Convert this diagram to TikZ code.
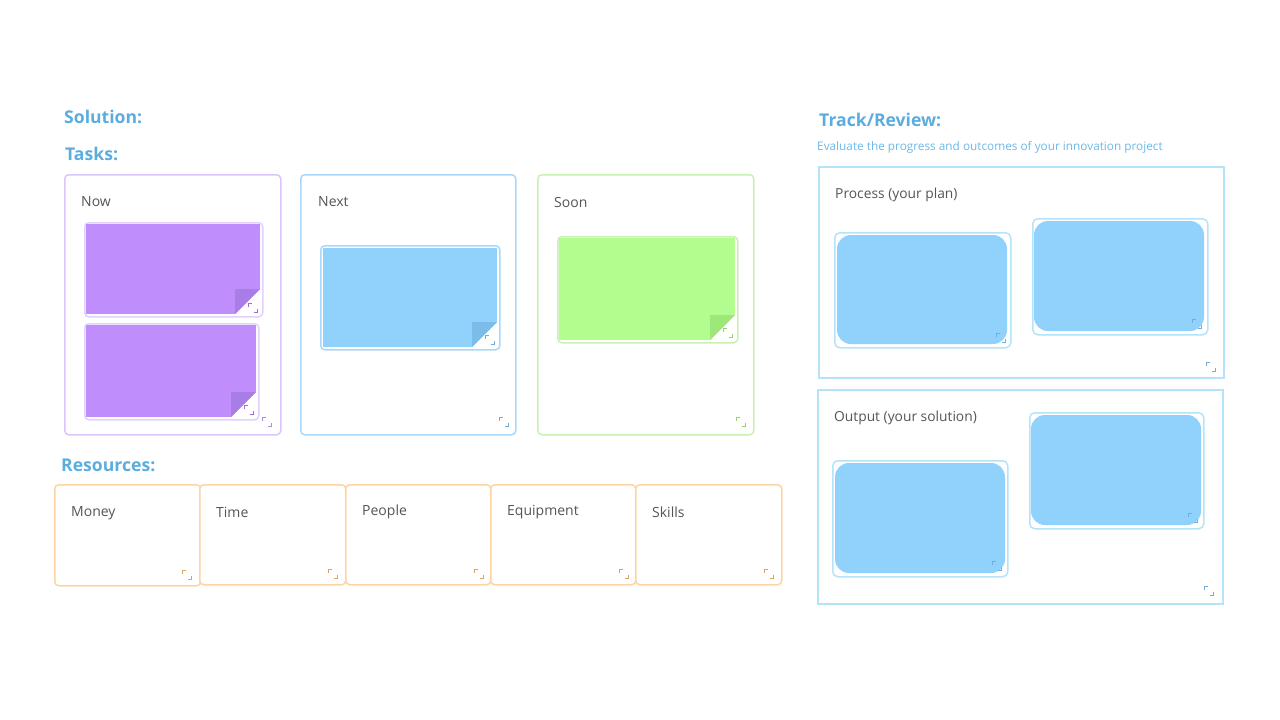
\documentclass[tikz,border=0pt]{standalone}
\usepackage{fontspec}
\setmainfont{Open Sans}
\definecolor{headblue}{HTML}{5BADE0}
\definecolor{subblue}{HTML}{6DB9E8}
\definecolor{txtgray}{HTML}{555555}
\definecolor{purpB}{HTML}{D9C6FB}
\definecolor{purpF}{HTML}{C08DFD}
\definecolor{purpD}{HTML}{A97DE6}
\definecolor{purpI}{HTML}{9A6FD8}
\definecolor{blueB}{HTML}{A9D8FA}
\definecolor{blueF}{HTML}{90D2FB}
\definecolor{blueD}{HTML}{7CBCE8}
\definecolor{blueI}{HTML}{6FAEDD}
\definecolor{greenB}{HTML}{C9F1B6}
\definecolor{greenF}{HTML}{B3FD8F}
\definecolor{greenD}{HTML}{9EE87A}
\definecolor{greenI}{HTML}{8FD46C}
\definecolor{orangeB}{HTML}{FDD5A3}
\definecolor{orangeI}{HTML}{D9A466}
\definecolor{trackB}{HTML}{B5E4FA}
\tikzset{
  head/.style={font=\bfseries\fontsize{17.6}{21}\selectfont, text=headblue, anchor=west, inner sep=0},
  label/.style={font=\fontsize{14}{17}\selectfont, text=txtgray, anchor=west, inner sep=0},
  col/.style={draw=#1, line width=1.5pt, rounded corners=4pt, anchor=north west, inner sep=0, fill=white},
  stickyouter/.style={draw=#1, line width=1.5pt, rounded corners=4pt, anchor=north west, inner sep=0},
  stickyfill/.style={fill=#1, anchor=north west, inner sep=0, outer sep=0},
  trackbox/.style={draw=trackB, line width=1.5pt, anchor=north west, inner sep=0},
  cardouter/.style={draw=trackB, line width=1.5pt, rounded corners=5pt, anchor=north west, inner sep=0},
  cardfill/.style={fill=blueF, rounded corners=14pt, anchor=north west, inner sep=0, outer sep=0},
}
\newcommand\rsz[3]{\draw[#3, line width=1.5pt] (#1-4.5,#2-1) -- (#1-4.5,#2-4.5) -- (#1-1,#2-4.5) (#1+4.5,#2+1) -- (#1+4.5,#2+4.5) -- (#1+1,#2+4.5);}
\newcommand\foldc[2]{%
  \fill[white] ([xshift=-25pt]#1.south east) -- ([yshift=25pt]#1.south east) -- (#1.south east) -- cycle;
  \fill[#2] ([xshift=-25pt,yshift=25pt]#1.south east) -- ([yshift=25pt]#1.south east) -- ([xshift=-25pt]#1.south east) -- cycle;}
\begin{document}
\begin{tikzpicture}[x=1pt,y=-1pt]
\useasboundingbox (0,0) rectangle (1280,720);
\fill[white] (0,0) rectangle (1280,720);

% headings
\node[head] (solution) at (64,116.5) {Solution:};
\node[head] (tasks) at (65,153.5) {Tasks:};
\node[head] (resources) at (61,465.5) {Resources:};
\node[head] (track) at (819,119.5) {Track/Review:};
\node[font=\fontsize{11.8}{14}\selectfont, text=subblue, anchor=west, inner sep=0] (sub) at (817,147.5) {Evaluate the progress and outcomes of your innovation project};

% Now column
\node[col=purpB, minimum width=216pt, minimum height=260pt] (now) at (64,174) {};
\node[label] (nowt) at (81,202) {Now};
\node[stickyouter=purpB!80, minimum width=178pt, minimum height=94pt] (s1o) at (84,222) {};
\node[stickyfill=purpF, minimum width=174pt, minimum height=90pt] (s1) at (86,224) {};
\foldc{s1}{purpD}
\rsz{253}{308}{purpI}
\node[stickyouter=purpB!80, minimum width=174pt, minimum height=96pt] (s2o) at (84,323) {};
\node[stickyfill=purpF, minimum width=170pt, minimum height=92pt] (s2) at (86,325) {};
\foldc{s2}{purpD}
\rsz{249}{410}{purpI}
\rsz{267}{422}{purpI!80}

% Next column
\node[col=blueB, minimum width=215pt, minimum height=260pt] (next) at (300,174) {};
\node[label] (nextt) at (318,202) {Next};
\node[stickyouter=blueB, minimum width=179pt, minimum height=104pt] (s3o) at (320,245) {};
\node[stickyfill=blueF, minimum width=174pt, minimum height=99pt] (s3) at (323,248) {};
\foldc{s3}{blueD}
\rsz{490}{340}{blueI}
\rsz{504}{422}{blueI}

% Soon column
\node[col=greenB, minimum width=216pt, minimum height=260pt] (soon) at (537,174) {};
\node[label] (soont) at (554,202) {Soon};
\node[stickyouter=greenB, minimum width=180pt, minimum height=106pt] (s4o) at (557,236) {};
\node[stickyfill=greenF, minimum width=176pt, minimum height=102pt] (s4) at (559,238) {};
\foldc{s4}{greenD}
\rsz{728}{333}{greenI}
\rsz{741}{422}{greenI}

% Resources
\node[col=orangeB, minimum width=146pt, minimum height=101pt] (money) at (54,484) {};
\node[col=orangeB, minimum width=146pt, minimum height=100pt] (time) at (199,484) {};
\node[col=orangeB, minimum width=145pt, minimum height=100pt] (people) at (345,484) {};
\node[col=orangeB, minimum width=145pt, minimum height=100pt] (equip) at (490,484) {};
\node[col=orangeB, minimum width=146pt, minimum height=100pt] (skills) at (635,484) {};
\node[label] (moneyt) at (71,513) {Money};
\node[label] (timet) at (216,512) {Time};
\node[label] (peoplet) at (362,512) {People};
\node[label] (equipt) at (507,512) {Equipment};
\node[label] (skillst) at (652,512) {Skills};
\rsz{187}{575}{orangeI}
\rsz{333}{574}{orangeI}
\rsz{479}{574}{orangeI}
\rsz{624}{574}{orangeI}
\rsz{769}{574}{orangeI}

% Track/Review
\node[trackbox, minimum width=405pt, minimum height=211pt] (process) at (818,166) {};
\node[label, font=\fontsize{13.8}{16}\selectfont] (processt) at (835,195) {Process (your plan)};
\node[cardouter, minimum width=176pt, minimum height=115pt] (c1o) at (834,232) {};
\node[cardfill, minimum width=170pt, minimum height=109pt] (c1) at (837,235) {};
\rsz{1001}{338}{blueI}
\node[cardouter, minimum width=175pt, minimum height=116pt] (c2o) at (1032,218) {};
\node[cardfill, minimum width=170pt, minimum height=110pt] (c2) at (1034,221) {};
\rsz{1197}{324}{blueI}
\rsz{1211}{367}{blueI}

\node[trackbox, minimum width=405pt, minimum height=214pt] (output) at (817,389) {};
\node[label, font=\fontsize{13.8}{16}\selectfont] (outputt) at (834,418) {Output (your solution)};
\node[cardouter, minimum width=175pt, minimum height=116pt] (c3o) at (832,460) {};
\node[cardfill, minimum width=170pt, minimum height=110pt] (c3) at (835,463) {};
\rsz{997}{566}{blueI}
\node[cardouter, minimum width=174pt, minimum height=116pt] (c4o) at (1029,412) {};
\node[cardfill, minimum width=170pt, minimum height=110pt] (c4) at (1031,415) {};
\rsz{1193}{518}{blueI}
\rsz{1209}{591}{blueI}
\end{tikzpicture}
\end{document}
